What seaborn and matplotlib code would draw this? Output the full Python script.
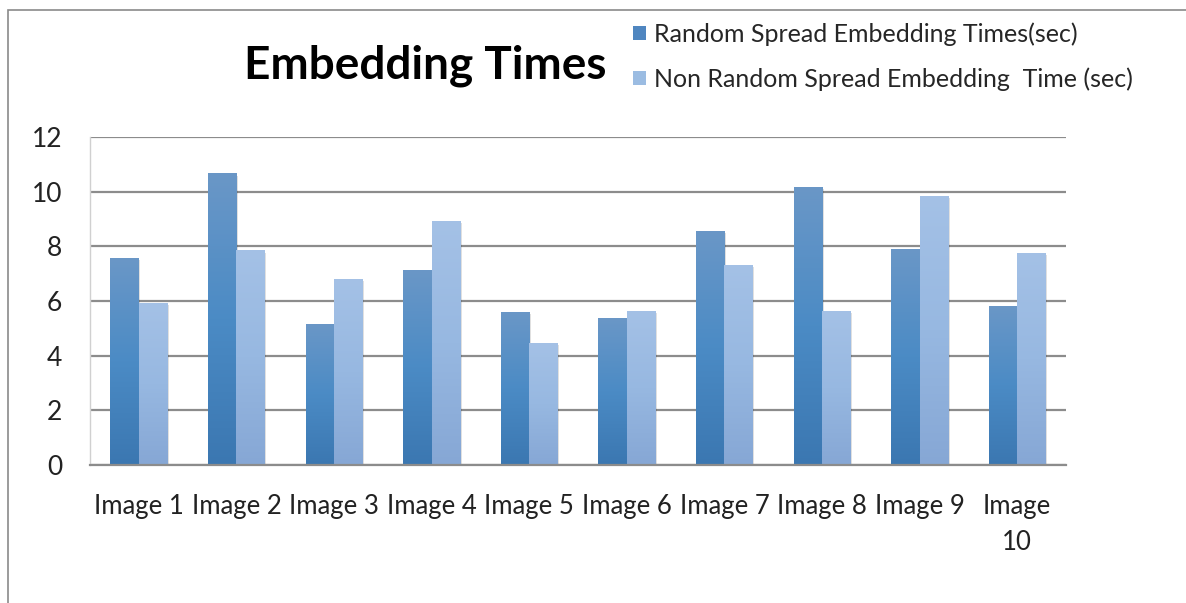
import numpy as np
import pandas as pd
import matplotlib
matplotlib.use("Agg")
import matplotlib.pyplot as plt
import seaborn as sns
from matplotlib.patches import Patch, Rectangle
from matplotlib.colors import LinearSegmentedColormap

categories = ["Image 1", "Image 2", "Image 3", "Image 4", "Image 5",
              "Image 6", "Image 7", "Image 8", "Image 9", "Image\n10"]
random_times = [7.57, 10.65, 5.14, 7.13, 5.57, 5.36, 8.54, 10.15, 7.89, 5.79]
nonrandom_times = [5.90, 7.83, 6.80, 8.91, 4.45, 5.62, 7.30, 5.62, 9.82, 7.73]
series_names = ["Random Spread Embedding Times(sec)",
                "Non Random Spread Embedding  Time (sec)"]
y_ticks = [0, 2, 4, 6, 8, 10, 12]

df = pd.DataFrame({
    "image": categories * 2,
    "time": random_times + nonrandom_times,
    "series": [series_names[0]] * len(categories) + [series_names[1]] * len(categories),
})

sns.set_theme(style="white")
plt.rcParams["font.family"] = ["Lato", "DejaVu Sans"]

dark = "#4f86c0"
light = "#9bbce2"
grads = {
    0: ("#6a97c7", "#4b8bc5", "#3b77b1"),
    1: ("#a4c1e6", "#97b8e1", "#86a7d5"),
}

fig = plt.figure(figsize=(11.86, 6.03), dpi=100)
ax = fig.add_axes([90 / 1186, 1 - 465 / 603, (1066 - 90) / 1186, (465 - 137) / 603])

sns.barplot(data=df, x="image", y="time", hue="series", palette=[dark, light],
            width=0.58, ax=ax, legend=False, saturation=1)

n = len(categories)
bars = [p for p in ax.patches if isinstance(p, Rectangle)]
for i, p in enumerate(bars[:2 * n]):
    s = 0 if i < n else 1
    x, y0 = p.get_x(), p.get_y()
    w, h = p.get_width(), p.get_height()
    cmap = LinearSegmentedColormap.from_list("g", [grads[s][2], grads[s][1], grads[s][0]])
    grad = np.linspace(0, 1, 256).reshape(-1, 1)
    ax.add_patch(Rectangle((x + w * 0.06, y0), w, h - 0.06, facecolor="#000000",
                           alpha=0.12, edgecolor="none", zorder=1.5))
    ax.imshow(grad, extent=[x, x + w, y0, y0 + h], origin="lower", cmap=cmap,
              aspect="auto", zorder=2.5, interpolation="bicubic")
    p.set_visible(False)

ax.set_xlim(-0.5, n - 0.5)
ax.set_ylim(0, 12)
ax.set_yticks(y_ticks)
ax.set_yticklabels([str(t) for t in y_ticks], fontsize=19, color="#222222")
ax.tick_params(axis="x", labelsize=18.5, colors="#222222", pad=21, length=0)
ax.tick_params(axis="y", pad=20, length=0)
for lbl in ax.get_xticklabels():
    lbl.set_linespacing(1.55)
ax.set_xlabel("")
ax.set_ylabel("")
ax.yaxis.grid(True, color="#8c8c8c", linewidth=1.6, zorder=0)
ax.set_axisbelow(True)
for side in ["top", "right"]:
    ax.spines[side].set_visible(False)
ax.spines["left"].set_color("#d0d0d0")
ax.spines["left"].set_linewidth(1.0)
ax.spines["bottom"].set_color("#8c8c8c")
ax.spines["bottom"].set_linewidth(1.6)

fig.text(425 / 1186, 1 - 66 / 603, "Embedding Times", fontsize=33, fontweight="bold",
         ha="center", va="center", color="#000000")

handles = [Patch(facecolor=dark, edgecolor="none"), Patch(facecolor=light, edgecolor="none")]
fig.legend(handles, series_names, loc="upper left", bbox_to_anchor=(623 / 1186, 1 - 12 / 603),
           frameon=False, fontsize=18, handlelength=0.5, handleheight=0.5,
           handletextpad=0.35, labelspacing=0.86, borderaxespad=0)

fig.add_artist(Rectangle((8 / 1186, -0.1), 1.2, 1 - 10 / 603 + 0.1, transform=fig.transFigure,
                         fill=False, edgecolor="#8a8a8a", linewidth=1.2))

fig.savefig("out.png", dpi=100)
